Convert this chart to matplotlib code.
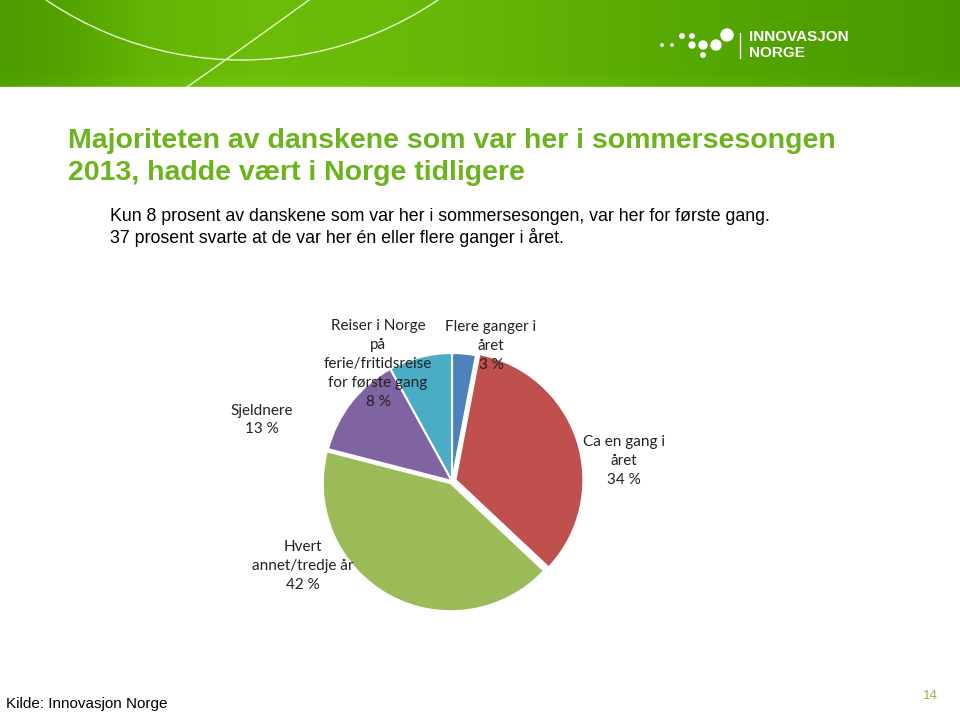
import numpy as np
import matplotlib
matplotlib.use("Agg")
import matplotlib.pyplot as plt
from matplotlib.patches import Circle, Arc
from matplotlib.colors import to_rgb

# --- data ---
labels = ["Flere ganger i\nåret", "Ca en gang i\nåret", "Hvert\nannet/tredje år",
          "Sjeldnere", "Reiser i Norge\npå\nferie/fritidsreise\nfor første gang"]
shares = [3, 34, 42, 13, 8]
colors = ["#4F81BD", "#C0504D", "#9BBB59", "#8064A2", "#4BACC6"]
explode = [0.0, 0.028, 0.02, 0.0, 0.0]

title_lines = ["Majoriteten av danskene som var her i sommersesongen",
               "2013, hadde vært i Norge tidligere"]
subtitle_lines = ["Kun 8 prosent av danskene som var her i sommersesongen, var her for første gang.",
                  "37 prosent svarte at de var her én eller flere ganger i året."]
source = "Kilde: Innovasjon Norge"
page = "14"

green_txt = "#6CB31D"
W, H = 960, 712

fig = plt.figure(figsize=(W / 100, H / 100), dpi=100)
fig.patch.set_facecolor("white")

# background axes in pixel coordinates
bg = fig.add_axes([0, 0, 1, 1], zorder=0)
bg.axis("off")

# header band with gradient
stops_x = [0, 60, 150, 260, 450, 700, 960]
stops_c = ["#4C9C00", "#52A200", "#64B505", "#6CBC0A", "#67B808", "#55A702", "#479900"]
xs = np.linspace(0, W, 480)
rgb = np.array([to_rgb(c) for c in stops_c])
row = np.stack([np.interp(xs, stops_x, rgb[:, k]) for k in range(3)], axis=-1)
ys = np.linspace(0, 87, 60)
shade = np.interp(ys, [0, 72, 87], [1.0, 1.0, 1.05])[:, None, None]
img = np.clip(row[None, :, :] * shade, 0, 1)
bg.imshow(img, extent=[0, W, 87, 0], aspect="auto", zorder=0, interpolation="bilinear")

# decorative curves
bg.add_patch(Arc((242, -290), 700, 700, theta1=0, theta2=360, color="#E8F5C8", lw=1.0, zorder=1))
t = np.linspace(0, 1, 50)
bx = (1 - t) ** 2 * 309 + 2 * (1 - t) * t * 240 + t ** 2 * 187
by = 2 * (1 - t) * t * 50 + t ** 2 * 87
bg.plot(bx, by, color="#E8F5C8", lw=1.0, zorder=1)
bg.set_xlim(0, W)
bg.set_ylim(H, 0)
bg.add_patch(plt.Rectangle((0, 87), W, H - 87, color="white", zorder=1.5))

# logo
for (dx, dy, r) in [(662, 45, 1.2), (672, 45, 1.2), (682, 36, 2.2), (692, 36, 2.2), (692, 45, 3),
                    (703, 45, 4), (716, 45, 5), (703, 55, 2.2), (727, 35, 6)]:
    bg.add_patch(Circle((dx, dy), r, color="white", zorder=2))
bg.plot([740, 740], [33, 58], color="white", lw=1, zorder=2)
bg.text(749, 37, "INNOVASJON", color="white", fontsize=11, fontweight="bold",
        family="Liberation Sans", va="center", ha="left", zorder=2)
bg.text(749, 53, "NORGE", color="white", fontsize=11, fontweight="bold",
        family="Liberation Sans", va="center", ha="left", zorder=2)

# title / subtitle
for line, yb in zip(title_lines, [148, 180]):
    bg.text(68, yb, line, color=green_txt, fontsize=20.5, fontweight="bold",
            family="Liberation Sans", va="baseline", ha="left", zorder=3)
for line, yb in zip(subtitle_lines, [221, 243]):
    bg.text(110, yb, line, color="black", fontsize=12.8, family="Liberation Sans",
            va="baseline", ha="left", zorder=3)

# footer
bg.text(6, 708, source, color="black", fontsize=11, family="Liberation Sans",
        va="baseline", ha="left", zorder=3)
bg.text(938, 699, page, color="#95B540", fontsize=9.5, family="Liberation Sans",
        va="baseline", ha="right", zorder=3)

# pie
R = 128
cx, cy = 452, 481
half = 1.45
ax = fig.add_axes([(cx - half * R) / W, (H - cy - half * R) / H, 2 * half * R / W, 2 * half * R / H],
                  zorder=1)
ax.pie(shares, colors=colors, explode=explode, startangle=90, counterclock=False,
       wedgeprops=dict(edgecolor="white", linewidth=1.5))
ax.set_xlim(-half, half)
ax.set_ylim(-half, half)
ax.set_aspect("equal")
ax.axis("off")

# data labels on top of the pie (pixel positions of label centres)
top = fig.add_axes([0, 0, 1, 1], zorder=2)
top.set_xlim(0, W)
top.set_ylim(H, 0)
top.axis("off")
label_pos = [(491, 346), (624, 461), (303, 566), (262, 420), (378, 364)]
for lab, val, (lx, ly) in zip(labels, shares, label_pos):
    top.text(lx, ly, f"{lab}\n{val} %", ha="center", va="center", fontsize=11,
             family="Lato", color="#222222", linespacing=1.45)

fig.savefig("out.png", dpi=100)
